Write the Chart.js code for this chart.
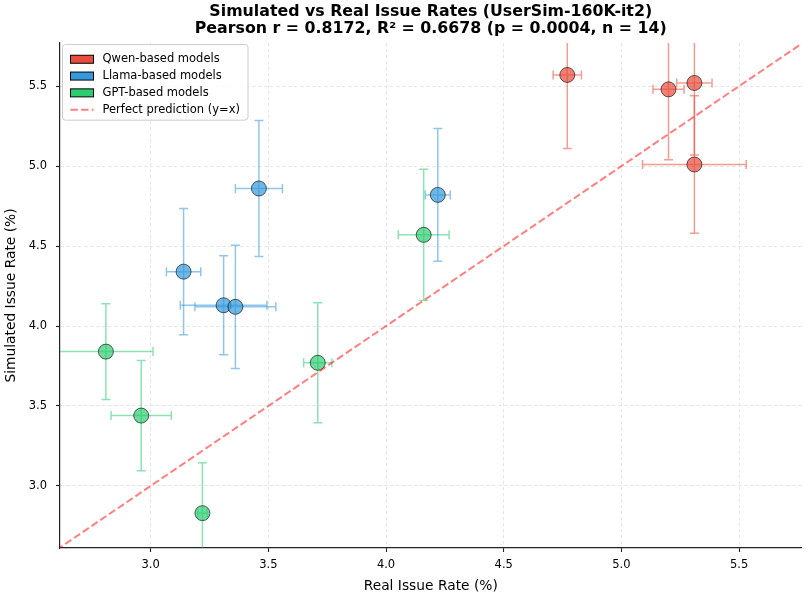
<!DOCTYPE html>
<html>
<head>
<meta charset="utf-8">
<script src="https://cdn.jsdelivr.net/npm/chart.js@4/dist/chart.umd.min.js"></script>
<style>
html,body{margin:0;padding:0;background:#fff;}
#wrap{width:810px;height:600px;}
</style>
</head>
<body>
<div id="wrap"><canvas id="c" width="810" height="600"></canvas></div>
<script>
// ---------- text ----------
const chartTitle = ['Simulated vs Real Issue Rates (UserSim-160K-it2)',
                    'Pearson r = 0.8172, R² = 0.6678 (p = 0.0004, n = 14)'];
const xAxisTitle = 'Real Issue Rate (%)';
const yAxisTitle = 'Simulated Issue Rate (%)';
const seriesNames = ['Qwen-based models', 'Llama-based models', 'GPT-based models'];
const refLineName = 'Perfect prediction (y=x)';

// ---------- axes ----------
const xTicks = [3.0, 3.5, 4.0, 4.5, 5.0, 5.5];
const yTicks = [3.0, 3.5, 4.0, 4.5, 5.0, 5.5];
const xLimits = [2.615, 5.765];
const yLimits = [2.612, 5.77];
const refLine = [2.6, 5.8];

// ---------- data ----------
const qwenReal   = [4.77, 5.20, 5.31, 5.31];
const qwenSim    = [5.57, 5.48, 5.52, 5.01];
const qwenRealErr= [0.06, 0.066, 0.075, 0.22];
const qwenSimErr = [0.46, 0.44, 0.45, 0.43];

const llamaReal   = [3.46, 3.14, 3.31, 3.36, 4.22];
const llamaSim    = [4.86, 4.34, 4.13, 4.12, 4.82];
const llamaRealErr= [0.10, 0.073, 0.184, 0.172, 0.053];
const llamaSimErr = [0.425, 0.395, 0.31, 0.385, 0.415];

const gptReal   = [4.16, 3.71, 2.81, 2.96, 3.22];
const gptSim    = [4.57, 3.77, 3.84, 3.44, 2.83];
const gptRealErr= [0.108, 0.06, 0.20, 0.128, 0.02];
const gptSimErr = [0.41, 0.375, 0.30, 0.345, 0.315];

// ---------- styles ----------
const colors = ['231,76,60', '52,152,219', '46,204,113'];
const FONT = "'DejaVu Sans', 'Liberation Sans', sans-serif";
Chart.defaults.font.family = FONT;
Chart.defaults.color = '#000';

function pts(xs, ys) { return xs.map((v, i) => ({x: v, y: ys[i]})); }

function scatterSet(name, xs, ys, ex, ey, rgb, order, legendRank) {
  return {
    type: 'scatter',
    label: name,
    data: pts(xs, ys),
    errX: ex, errY: ey,
    legendRank: legendRank,
    errColor: 'rgba(' + rgb + ',0.55)',
    legendColor: 'rgb(' + rgb + ')',
    backgroundColor: 'rgba(' + rgb + ',0.7)',
    borderColor: 'rgba(0,0,0,0.6)',
    borderWidth: 1,
    pointRadius: 7.5,
    pointHoverRadius: 7.5,
    order: order
  };
}

const errorBarPlugin = {
  id: 'errorBars',
  beforeDatasetsDraw(chart) {
    const {ctx, chartArea: a, scales} = chart;
    const xs = scales.x, ys = scales.y;
    const cap = 4.5;
    ctx.save();
    ctx.beginPath();
    ctx.rect(a.left, a.top, a.right - a.left, a.bottom - a.top);
    ctx.clip();
    ctx.lineWidth = 1.5;
    ctx.setLineDash([]);
    chart.data.datasets.forEach(ds => {
      if (!ds.errX) return;
      ctx.strokeStyle = ds.errColor;
      ds.data.forEach((p, i) => {
        const px = xs.getPixelForValue(p.x);
        const py = ys.getPixelForValue(p.y);
        const xl = xs.getPixelForValue(p.x - ds.errX[i]);
        const xr = xs.getPixelForValue(p.x + ds.errX[i]);
        const yt = ys.getPixelForValue(p.y + ds.errY[i]);
        const yb = ys.getPixelForValue(p.y - ds.errY[i]);
        ctx.beginPath();
        ctx.moveTo(px, yt); ctx.lineTo(px, yb);
        ctx.moveTo(px - cap, yt); ctx.lineTo(px + cap, yt);
        ctx.moveTo(px - cap, yb); ctx.lineTo(px + cap, yb);
        ctx.moveTo(xl, py); ctx.lineTo(xr, py);
        ctx.moveTo(xl, py - cap); ctx.lineTo(xl, py + cap);
        ctx.moveTo(xr, py - cap); ctx.lineTo(xr, py + cap);
        ctx.stroke();
      });
    });
    ctx.restore();
  }
};

const boxLegendPlugin = {
  id: 'boxLegend',
  afterDraw(chart) {
    const {ctx, chartArea: a} = chart;
    const fontSize = 11.5;
    ctx.save();
    ctx.font = fontSize + 'px ' + FONT;
    const items = chart.data.datasets.filter(d => d.errX)
      .sort((p, q) => p.legendRank - q.legendRank)
      .map(d => ({text: d.label, kind: 'patch', color: d.legendColor}));
    const ref = chart.data.datasets.find(d => !d.errX);
    items.push({text: ref.label, kind: 'line', color: ref.borderColor});
    const L = a.left + 2.5, T = a.top + 1.5;
    const patchX = L + 8, patchW = 23, patchH = 8, textX = L + 40;
    const rowH = 16.8, firstY = T + 14.8;
    let maxW = 0;
    items.forEach(it => { maxW = Math.max(maxW, ctx.measureText(it.text).width); });
    const W = textX - L + maxW + 8, H = firstY - T + rowH * (items.length - 1) + 10.5;
    const r = 3;
    ctx.beginPath();
    ctx.moveTo(L + r, T);
    ctx.arcTo(L + W, T, L + W, T + H, r);
    ctx.arcTo(L + W, T + H, L, T + H, r);
    ctx.arcTo(L, T + H, L, T, r);
    ctx.arcTo(L, T, L + W, T, r);
    ctx.closePath();
    ctx.fillStyle = 'rgba(255,255,255,0.8)';
    ctx.fill();
    ctx.strokeStyle = '#cccccc';
    ctx.lineWidth = 1;
    ctx.stroke();
    items.forEach((it, i) => {
      const cy = firstY + i * rowH;
      if (it.kind === 'patch') {
        ctx.fillStyle = it.color;
        ctx.fillRect(patchX, cy - patchH / 2, patchW, patchH);
        ctx.strokeStyle = '#000';
        ctx.lineWidth = 1;
        ctx.strokeRect(patchX, cy - patchH / 2, patchW, patchH);
      } else {
        ctx.strokeStyle = it.color;
        ctx.lineWidth = 2;
        ctx.setLineDash([7.4, 3.2]);
        ctx.beginPath();
        ctx.moveTo(patchX, cy); ctx.lineTo(patchX + patchW, cy);
        ctx.stroke();
        ctx.setLineDash([]);
      }
      ctx.fillStyle = '#000';
      ctx.textBaseline = 'middle';
      ctx.textAlign = 'left';
      ctx.fillText(it.text, textX, cy);
    });
    ctx.restore();
  }
};

const tickFont = {size: 11.5, family: FONT};
const axisTitleFont = {size: 13.8, family: FONT};

new Chart(document.getElementById('c'), {
  data: {
    datasets: [
      {
        type: 'line',
        label: refLineName,
        data: [{x: refLine[0], y: refLine[0]}, {x: refLine[1], y: refLine[1]}],
        borderColor: 'rgba(255,0,0,0.5)',
        borderWidth: 2,
        borderDash: [7.4, 3.2],
        pointRadius: 0,
        fill: false,
        clip: 0,
        order: 0
      },
      scatterSet(seriesNames[2], gptReal, gptSim, gptRealErr, gptSimErr, colors[2], 1, 2),
      scatterSet(seriesNames[1], llamaReal, llamaSim, llamaRealErr, llamaSimErr, colors[1], 2, 1),
      scatterSet(seriesNames[0], qwenReal, qwenSim, qwenRealErr, qwenSimErr, colors[0], 3, 0)
    ]
  },
  options: {
    responsive: false,
    animation: false,
    devicePixelRatio: 1,
    layout: {padding: {left: 0, right: 8, top: 0, bottom: 0}},
    plugins: {
      legend: {display: false},
      tooltip: {enabled: false},
      title: {
        display: true,
        text: chartTitle,
        fullSize: false,
        color: '#000',
        font: {size: 15.8, weight: 'bold', family: FONT, lineHeight: 1.1},
        padding: {top: 3, bottom: 5.2}
      }
    },
    scales: {
      x: {
        type: 'linear',
        min: xLimits[0], max: xLimits[1],
        afterBuildTicks: s => { s.ticks = xTicks.map(v => ({value: v})); },
        afterFit: s => { s.height = 52; },
        ticks: {font: tickFont, color: '#000', padding: 6, maxRotation: 0,
                callback: v => Number(v).toFixed(1)},
        grid: {color: '#e5e5e5', lineWidth: 1, drawTicks: true, tickLength: 4,
               tickColor: '#222', tickWidth: 1.1, tickBorderDash: []},
        border: {display: true, color: '#222', width: 1.2, dash: [3.5, 2.5]},
        title: {display: true, text: xAxisTitle, font: axisTitleFont, color: '#000',
                padding: {top: 0, bottom: 5.7}}
      },
      y: {
        type: 'linear',
        min: yLimits[0], max: yLimits[1],
        afterBuildTicks: s => { s.ticks = yTicks.map(v => ({value: v})); },
        afterFit: s => { s.width = 60; },
        ticks: {font: tickFont, color: '#000', padding: 9,
                callback: v => Number(v).toFixed(1)},
        grid: {color: '#e5e5e5', lineWidth: 1, drawTicks: true, tickLength: 4,
               tickColor: '#222', tickWidth: 1.1, tickBorderDash: []},
        border: {display: true, color: '#222', width: 1.2, dash: [3.5, 2.5]},
        title: {display: true, text: yAxisTitle, font: axisTitleFont, color: '#000',
                padding: {top: 3.5, bottom: 0}}
      }
    }
  },
  plugins: [errorBarPlugin, boxLegendPlugin]
});
</script>
</body>
</html>
